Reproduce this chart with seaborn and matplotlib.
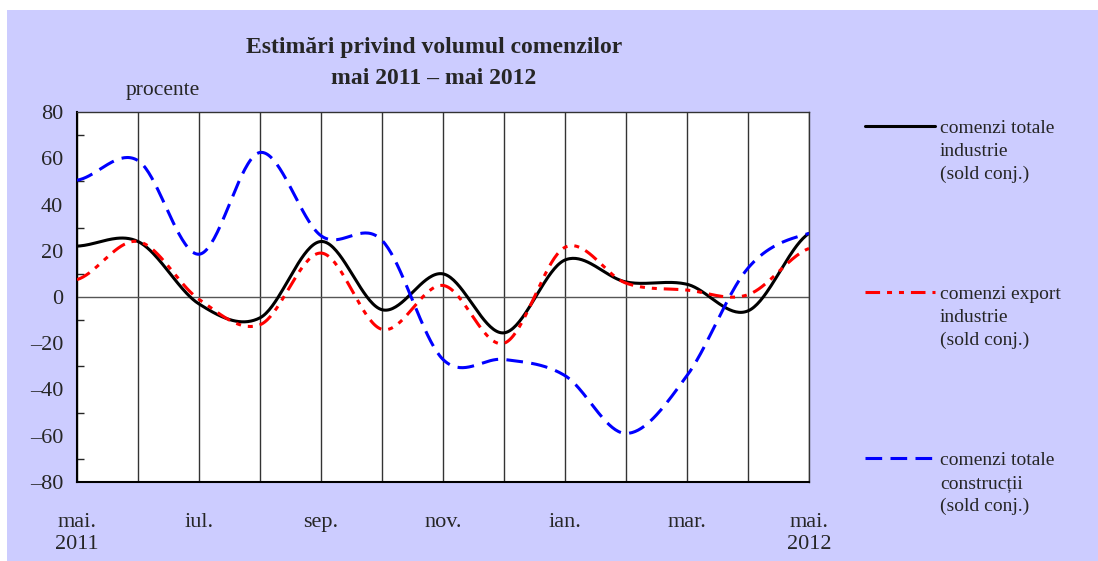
import numpy as np
import pandas as pd
import matplotlib
matplotlib.use("Agg")
import matplotlib.pyplot as plt
import seaborn as sns
from matplotlib.lines import Line2D
from matplotlib.patches import Rectangle

# data (one value per month, mai 2011 .. mai 2012)
months = ["mai.", "iun.", "iul.", "aug.", "sep.", "oct.", "nov.",
          "dec.", "ian.", "feb.", "mar.", "apr.", "mai."]
tick_labels = ["mai.\n2011", "", "iul.", "", "sep.", "", "nov.",
               "", "ian.", "", "mar.", "", "mai.\n2012"]
industrie_total = [22, 24, -3, -9, 24, -5.5, 10, -15.5, 16, 6.5, 5.5, -6, 27.5]
industrie_export = [7.5, 24, -1, -12, 19, -14, 5, -20, 21.5, 6, 3, 1, 21]
constructii = [50.5, 59, 18.5, 62.5, 26.5, 24.5, -27, -27, -34, -59, -34, 12.5, 27.5]

series_names = ["comenzi totale\nindustrie\n(sold conj.)",
                "comenzi export\nindustrie\n(sold conj.)",
                "comenzi totale\nconstrucții\n(sold conj.)"]

sns.set_style("white")
plt.rcParams['font.family'] = ['Liberation Serif', 'DejaVu Serif']
plt.rcParams['font.size'] = 16
plt.rcParams['lines.scale_dashes'] = False


def smooth_line(values, steps=40):
    # Excel-like smoothed line (Catmull-Rom through the monthly points)
    y = np.asarray(values, dtype=float)
    p = np.concatenate([[y[0]], y, [y[-1]]])
    xs, ys = [], []
    t = np.linspace(0, 1, steps, endpoint=False)
    for i in range(len(y) - 1):
        m0 = (p[i + 2] - p[i]) / 2
        m1 = (p[i + 3] - p[i + 1]) / 2
        h00 = 2 * t**3 - 3 * t**2 + 1
        h10 = t**3 - 2 * t**2 + t
        h01 = -2 * t**3 + 3 * t**2
        h11 = t**3 - t**2
        xs.append(i + t)
        ys.append(h00 * y[i] + h10 * m0 + h01 * y[i + 1] + h11 * m1)
    xs.append([len(y) - 1])
    ys.append([y[-1]])
    return pd.DataFrame({"x": np.concatenate(xs), "y": np.concatenate(ys)})


styles = [
    dict(color="black", lw=2.2, linestyle="-"),
    dict(color="#FF0000", lw=2.2, linestyle=(0, (10.5, 5, 3.6, 5, 3.6, 5))),
    dict(color="#0000FF", lw=2.2, linestyle=(0, (12, 6))),
]

fig = plt.figure(figsize=(10.98, 5.61), dpi=100)
fig.patch.set_facecolor("#CCCCFF")
# white margin at top / left like the original screenshot
fig.patches.append(Rectangle((0, 1 - 10 / 561), 1, 10 / 561, transform=fig.transFigure,
                             facecolor="white", edgecolor="none", zorder=0))
fig.patches.append(Rectangle((0, 0), 7 / 1098, 1, transform=fig.transFigure,
                             facecolor="white", edgecolor="none", zorder=0))

ax = fig.add_axes([77 / 1098, 1 - 482 / 561, 732 / 1098, 370 / 561])
ax.set_facecolor("white")

for vals, st in zip([industrie_total, industrie_export, constructii], styles):
    df = smooth_line(vals)
    sns.lineplot(data=df, x="x", y="y", ax=ax, sort=False, estimator=None,
                 color=st["color"], linewidth=st["lw"], linestyle=st["linestyle"], zorder=3)

ax.set_xlim(0, len(months) - 1)
ax.set_ylim(-80, 80)
ax.set_xticks(range(len(months)))
ax.set_xticklabels(tick_labels, linespacing=1.25)
ax.set_yticks(range(-80, 81, 20))
ax.set_yticklabels([f"{v}".replace("-", "\u2013") for v in range(-80, 81, 20)])
ax.set_yticks(range(-70, 80, 20), minor=True)
ax.tick_params(axis="x", length=0, pad=22, labelsize=16)
ax.tick_params(axis="y", which="major", direction="inout", length=12, width=1, pad=4, labelsize=16)
ax.tick_params(axis="y", which="minor", direction="in", length=5, width=1, left=True)
ax.grid(axis="x", color="#333333", linewidth=1)
ax.axhline(0, color="#555555", linewidth=1, zorder=2)
ax.set_xlabel("")
ax.set_ylabel("")
for side in ["left", "bottom"]:
    ax.spines[side].set_color("black")
    ax.spines[side].set_linewidth(1.5)
for side in ["top", "right"]:
    ax.spines[side].set_color("#333333")
    ax.spines[side].set_linewidth(1)
if ax.get_legend():
    ax.get_legend().remove()

# titles
fig.text(434 / 1098, 1 - 47 / 561, "Estimări privind volumul comenzilor", ha="center",
         va="center", fontsize=17, fontweight="bold")
fig.text(434 / 1098, 1 - 78 / 561, "mai 2011 – mai 2012", ha="center",
         va="center", fontsize=17, fontweight="bold")
fig.text(163 / 1098, 1 - 91 / 561, "procente", ha="center", va="center", fontsize=15.5)

# legend drawn on the right
for name, st, ly in zip(series_names, styles, [126, 292, 458]):
    yf = 1 - ly / 561
    fig.lines.append(Line2D([865 / 1098, 935 / 1098], [yf, yf], transform=fig.transFigure,
                            color=st["color"], linewidth=st["lw"], linestyle=st["linestyle"]))
    fig.text(940 / 1098, 1 - (ly - 6) / 561, name, ha="left", va="top",
             fontsize=14, linespacing=1.45)

fig.savefig("out.png", dpi=100, facecolor=fig.get_facecolor())
